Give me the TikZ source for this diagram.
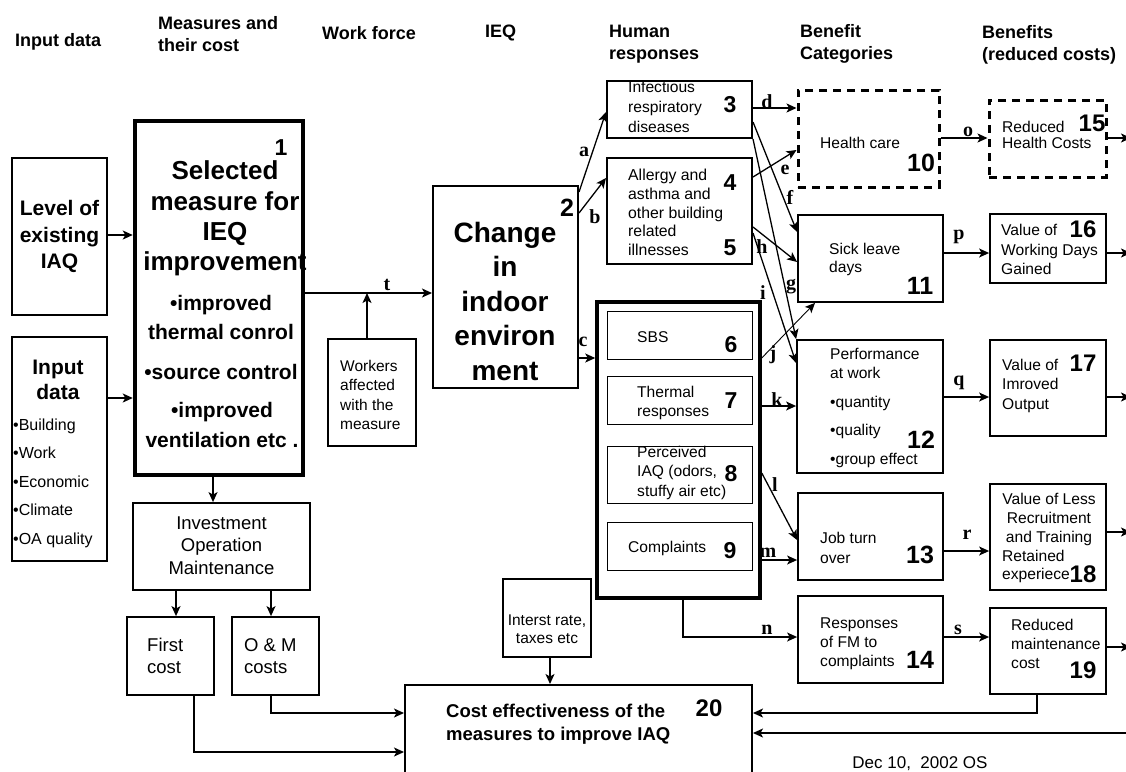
\documentclass[tikz,border=0pt]{standalone}
\usepackage{fontspec}
\setmainfont{Liberation Sans}
\newfontfamily\lblfont{Liberation Serif}
\usetikzlibrary{arrows.meta,fit}
\newcommand\fs[2]{\fontsize{#1}{#2}\selectfont}
\tikzset{
  box/.style={draw, line width=1.8pt, inner sep=0pt},
  inbox/.style={draw, line width=1pt, inner sep=0pt},
  dbox/.style={draw, line width=3pt, dash pattern=on 8pt off 6pt, inner sep=0pt},
  txt/.style={inner sep=0pt, anchor=west, align=left},
  ctxt/.style={inner sep=0pt, anchor=center, align=center},
  num/.style={inner sep=0pt, anchor=center, font=\fs{25}{25}\bfseries},
  snum/.style={inner sep=0pt, anchor=center, font=\fs{23}{23}\bfseries},
  lab/.style={inner sep=0pt, anchor=center, font=\lblfont\fs{20}{20}\bfseries},
  arr/.style={line width=1.3pt, -{Stealth[length=10pt,width=9pt,inset=2.5pt]}},
  conn/.style={line width=1.3pt},
  head/.style={txt, font=\fs{18}{22}\bfseries},
  body/.style={txt, font=\fs{15.6}{19}},
}
\begin{document}
\begin{tikzpicture}[x=1pt,y=-1pt]
\useasboundingbox (0,0) rectangle (1126,771);
% headers
\node[head] (h1) at (15,42) {Input data};
\node[head] (h2) at (158,34) {Measures and\\their cost};
\node[head] (h3) at (322,33) {Work force};
\node[head] (h4) at (485,33) {IEQ};
\node[head] (h5) at (609,44) {Human\\responses};
\node[head] (h6) at (800,44) {Benefit\\Categories};
\node[head] (h7) at (982,45) {Benefits\\(reduced costs)};
% left input boxes
\node[ctxt, font=\fs{21}{26.5}\bfseries] (tlvl) at (59.5,236.5) {Level of\\existing\\IAQ};
\node[box, line width=2pt, fit={(12,158) (107,315)}] (lvl) {};
\node[ctxt, font=\fs{21}{25}\bfseries] (tinp) at (58,379.5) {Input\\data};
\node[txt, font=\fs{16}{28.5}] (tinpl) at (13,483) {•Building\\•Work\\•Economic\\•Climate\\•OA quality};
\node[box, line width=2pt, fit={(12,337) (107,561)}] (inp) {};
% box 1
\node[ctxt, font=\fs{26}{30.3}\bfseries] (t1a) at (225,218.5) {Selected\\measure for\\IEQ\\improvement};
\node[ctxt, font=\fs{21}{29}\bfseries] (t1b) at (221,317.5) {•improved\\thermal conrol};
\node[ctxt, font=\fs{21}{29}\bfseries] (t1c) at (221,372) {•source control};
\node[ctxt, font=\fs{21}{30}\bfseries] (t1d) at (222,425) {•improved\\ventilation etc .};
\node[num, font=\fs{23}{23}\bfseries] (n1) at (281,148) {1};
\node[box, line width=4.5pt, fit={(135,121) (303,475)}] (b1) {};
% cost boxes
\node[ctxt, font=\fs{18.5}{22.5}] (tinv) at (221.5,545.5) {Investment\\Operation\\Maintenance};
\node[box, fit={(133,503) (310,590)}] (inv) {};
\node[txt, font=\fs{18.5}{22}] (tfc) at (147,656) {First\\cost};
\node[box, fit={(127,617) (214,695)}] (fc) {};
\node[txt, font=\fs{18.5}{22}] (tom) at (244,656) {O \& M\\costs};
\node[box, fit={(232,617) (319,695)}] (om) {};
\node[body, font=\fs{15.5}{19.3}] (twrk) at (340,395) {Workers\\affected\\with the\\measure};
\node[box, fit={(328,339) (416,446)}] (wrk) {};
\node[ctxt, font=\fs{15.5}{18}] (tint) at (547,629) {Interst rate,\\taxes etc};
\node[box, line width=1.5pt, fit={(503,579) (591,657)}] (int) {};
\node[txt, font=\fs{18.5}{23}\bfseries] (t20) at (446,724.5) {Cost effectiveness of the\\measures to improve IAQ};
\node[num, font=\fs{24}{24}\bfseries] (n20) at (709,708) {20};
\node[box, line width=2pt, fit={(405,685) (752,795)}] (b20) {};
% box 2
\node[ctxt, font=\fs{28}{34.5}\bfseries] (t2) at (505,301) {Change\\in\\indoor\\environ\\ment};
\node[num] (n2) at (567,208) {2};
\node[box, line width=2pt, fit={(433,186) (578,388)}] (b2) {};
% human responses
\node[body, font=\fs{15.6}{20}] (t3) at (628,107) {Infectious\\respiratory\\diseases};
\node[snum] (n3) at (730,105) {3};
\node[box, line width=2pt, fit={(607,81) (752,138)}] (b3) {};
\node[body, font=\fs{15.8}{18.75}] (t45) at (628,212.5) {Allergy and\\asthma and\\other building\\related\\illnesses};
\node[snum] (n4) at (730,183) {4};
\node[snum] (n5) at (730,248) {5};
\node[box, line width=2pt, fit={(607,158) (752,264)}] (b45) {};
\node[box, line width=3.5pt, fit={(597,302) (760,598)}] (b69) {};
\node[inbox, fit={(607,311) (752,359)}] (b6) {};
\node[body] (t6) at (637,337) {SBS};
\node[snum] (n6) at (731,345) {6};
\node[inbox, fit={(607,376) (752,424)}] (b7) {};
\node[body] (t7) at (637,402.5) {Thermal\\responses};
\node[snum] (n7) at (731,401) {7};
\node[inbox, fit={(607,446) (752,503)}] (b8) {};
\node[body, font=\fs{15.6}{19.5}] (t8) at (637,472.5) {Perceived\\IAQ (odors,\\stuffy air etc)};
\node[snum] (n8) at (731,474) {8};
\node[inbox, fit={(607,522) (752,570)}] (b9) {};
\node[body] (t9) at (628,548) {Complaints};
\node[snum] (n9) at (730,551) {9};
% benefit categories
\node[dbox, fit={(798,90) (939,187)}] (b10) {};
\node[body] (t10) at (820,143) {Health care};
\node[num] (n10) at (921,163) {10};
\node[box, fit={(798,215) (943,302)}] (b11) {};
\node[body, font=\fs{15.6}{18}] (t11) at (829,259) {Sick leave\\days};
\node[num] (n11) at (920,286) {11};
\node[box, fit={(797,340) (943,473)}] (b12) {};
\node[body] (t12a) at (830,363.5) {Performance\\at work};
\node[body, font=\fs{15.6}{28.5}] (t12b) at (830,431.5) {•quantity\\•quality\\•group effect};
\node[num] (n12) at (921,440) {12};
\node[box, fit={(798,493) (943,580)}] (b13) {};
\node[body, font=\fs{15.6}{20}] (t13) at (820,548) {Job turn\\over};
\node[num] (n13) at (920,555) {13};
\node[box, fit={(798,596) (943,683)}] (b14) {};
\node[body] (t14) at (820,644) {Responses\\of FM to\\complaints};
\node[num] (n14) at (920,660) {14};
% benefits
\node[dbox, fit={(989,100) (1106,177)}] (b15) {};
\node[body, font=\fs{15.6}{16.7}] (t15) at (1002,135) {Reduced\\Health Costs};
\node[num, font=\fs{24}{24}\bfseries] (n15) at (1092,123) {15};
\node[box, fit={(990,214) (1106,283)}] (b16) {};
\node[body, font=\fs{15.6}{19.5}] (t16) at (1001,249.5) {Value of\\Working Days\\Gained};
\node[num, font=\fs{24}{24}\bfseries] (n16) at (1083,229) {16};
\node[box, fit={(990,340) (1106,436)}] (b17) {};
\node[body, font=\fs{15.6}{19.5}] (t17) at (1002,385.5) {Value of\\Imroved\\Output};
\node[num, font=\fs{24}{24}\bfseries] (n17) at (1083,363) {17};
\node[box, fit={(990,484) (1106,590)}] (b18) {};
\node[ctxt, font=\fs{15.6}{19}] (t18a) at (1049,519) {Value of Less\\Recruitment\\and Training};
\node[body, font=\fs{15.6}{17.5}] (t18b) at (1002,566.5) {Retained\\experiece};
\node[num, font=\fs{24}{24}\bfseries] (n18) at (1083,574) {18};
\node[box, fit={(990,608) (1106,694)}] (b19) {};
\node[body] (t19) at (1011,644) {Reduced\\maintenance\\cost};
\node[num, font=\fs{24}{24}\bfseries] (n19) at (1083,670) {19};
% date
\node[ctxt, font=\fs{17}{17}] (date) at (920,764) {Dec 10,~~2002 OS};
% free ends
\coordinate (tj) at (367,293);
\coordinate (e15) at (1131,138);
\coordinate (e16) at (1131,253);
\coordinate (e17) at (1131,397);
\coordinate (e18) at (1131,532);
\coordinate (e19) at (1131,647);
\coordinate (redge) at (1131,733);
% connectors left part
\draw[arr] (lvl.east |- 0,235) -- (b1.west |- 0,235);
\draw[arr] (inp.east |- 0,398) -- (b1.west |- 0,398);
\draw[arr] (b1.east |- 0,293) -- (b2.west |- 0,293);
\draw[arr] (wrk.north -| tj) -- (tj);
\draw[arr] (b1.south -| 213,0) -- (inv.north -| 213,0);
\draw[arr] (inv.south -| 176,0) -- (fc.north -| 176,0);
\draw[arr] (inv.south -| 271,0) -- (om.north -| 271,0);
\draw[arr] (int.south -| 550,0) -- (b20.north -| 550,0);
\draw[arr] (om.south -| 271,0) |- (b20.west |- 0,713);
\draw[arr] (fc.south -| 194,0) |- (b20.west |- 0,752);
\draw[arr] (b19.south -| 1037,0) |- (b20.east |- 0,713);
\draw[arr] (redge) -- (b20.east |- redge);
% IEQ to responses
\draw[arr] (b2.east |- 0,192) -- (b3.west |- 0,112);
\draw[arr] (b2.east |- 0,213) -- (b45.west |- 0,178);
\draw[arr] (b2.east |- 0,358) -- (b69.west |- 0,358);
% responses to categories
\draw[arr] (b3.east |- 0,108) -- (b10.west |- 0,108);
\draw[arr] (b45.east |- 0,177) -- (b10.west |- 0,150);
\draw[arr] (b3.east |- 0,122) -- (b11.west |- 0,232);
\draw[arr] (b3.south east) -- (b12.north west);
\draw[arr] (b45.east |- 0,227) -- (b11.west |- 0,262);
\draw[arr] (b45.east |- 0,233) -- (b12.west |- 0,363);
\draw[arr, line width=0.9pt] (b69.east |- 0,358) -- (b11.south -| 815,0);
\draw[arr] (b69.east |- 0,406) -- (b12.west |- 0,406);
\draw[arr] (b69.east |- 0,473) -- (b13.west |- 0,540);
\draw[arr] (b69.east |- 0,560) -- (b13.west |- 0,560);
\draw[arr] (b69.south -| 683,0) |- (b14.west |- 0,637);
% categories to benefits
\draw[arr] (b10.east |- 0,138) -- (b15.west |- 0,138);
\draw[arr] (b11.east |- 0,253) -- (b16.west |- 0,253);
\draw[arr] (b12.east |- 0,397) -- (b17.west |- 0,397);
\draw[arr] (b13.east |- 0,551) -- (b18.west |- 0,551);
\draw[arr] (b14.east |- 0,637) -- (b19.west |- 0,637);
% outgoing
\draw[arr] (b15.east |- e15) -- (e15);
\draw[arr] (b16.east |- e16) -- (e16);
\draw[arr] (b17.east |- e17) -- (e17);
\draw[arr] (b18.east |- e18) -- (e18);
\draw[arr] (b19.east |- e19) -- (e19);
% labels
\node[lab] (la) at (584,152) {a};
\node[lab] (lb) at (595,217) {b};
\node[lab] (lc) at (583,342) {c};
\node[lab] (ld) at (767,102) {d};
\node[lab] (le) at (785,170) {e};
\node[lab] (lf) at (790,197) {f};
\node[lab] (lg) at (791,287) {g};
\node[lab] (lh) at (762,247) {h};
\node[lab] (li) at (763,293) {i};
\node[lab] (lj) at (773,355) {j};
\node[lab] (lk) at (777,400) {k};
\node[lab] (ll) at (775,485) {l};
\node[lab] (lm) at (768,553) {m};
\node[lab] (ln) at (767,630) {n};
\node[lab] (lo) at (968,132) {o};
\node[lab] (lp) at (959,237) {p};
\node[lab] (lq) at (959,383) {q};
\node[lab] (lr) at (967,535) {r};
\node[lab] (ls) at (958,630) {s};
\node[lab] (lt) at (387,285) {t};
\end{tikzpicture}
\end{document}
